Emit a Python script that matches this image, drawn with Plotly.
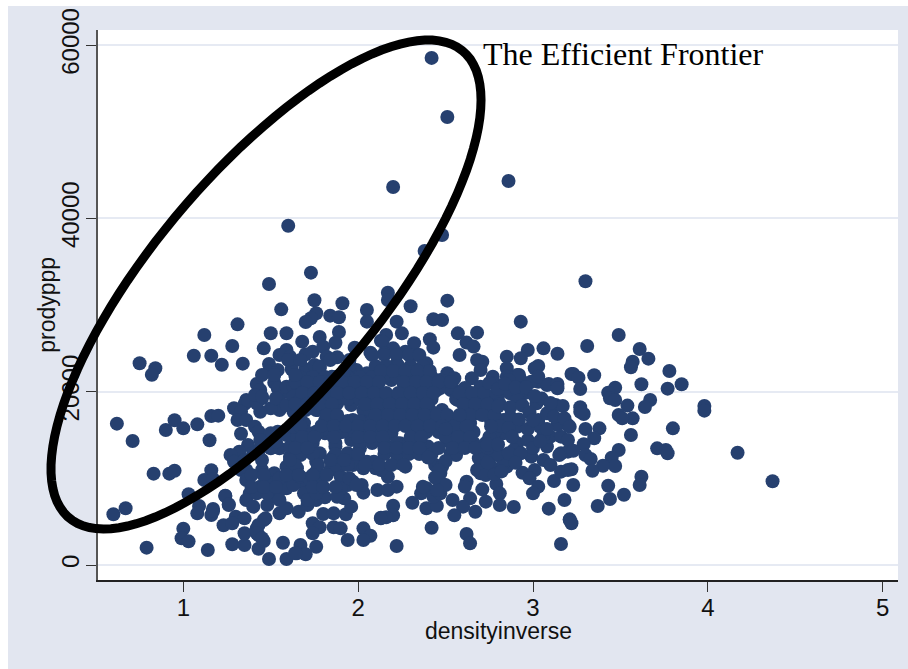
import numpy as np
import plotly.graph_objects as go

# values, grouped by part of the cloud
upper_x = [2.42, 2.51, 2.20, 2.86, 2.48, 2.38, 1.60, 1.73, 1.49, 1.75,
           1.91, 1.56, 2.05, 1.76, 1.73, 1.70, 1.84, 1.89, 2.05, 1.31,
           1.12, 1.50, 1.59, 1.89, 1.78, 1.68, 1.87, 1.28, 1.46, 1.98,
           2.13, 2.07, 1.06, 1.16, 1.22, 1.34, 1.59, 1.55, 1.61, 1.74,
           1.70, 1.80, 1.82, 1.88, 1.49, 1.49, 1.54, 1.62, 1.70, 1.75,
           1.78, 1.42, 1.44, 1.52, 1.54, 1.58, 1.63, 1.71, 1.36, 1.45,
           1.55]
upper_y = [58510, 51700, 43620, 44310, 38080, 36240, 39150, 33730, 32430, 30540,
           30200, 29500, 29430, 29040, 28470, 28040, 28770, 28580, 28080, 27770,
           26540, 26740, 26740, 26890, 26310, 25770, 25650, 25270, 25000, 25080,
           25880, 24500, 24150, 24150, 23110, 23230, 24810, 24230, 24040, 24620,
           24310, 25190, 24040, 23970, 23200, 22310, 22500, 22580, 22580, 23080,
           22700, 20890, 20200, 21040, 20390, 20000, 20390, 21040, 19040, 19240,
           18850]

left_x = [0.75, 0.84, 0.82, 0.62, 0.71, 0.90, 0.95, 1.00, 1.08, 1.16,
          1.20, 1.15, 1.33, 0.83, 0.92, 0.95, 1.16, 1.12, 1.17, 1.03,
          1.09, 1.08, 1.17, 1.16, 0.67, 0.60, 1.24, 1.26, 1.23, 1.00,
          0.99, 1.03, 0.79, 1.14, 1.28, 1.35, 1.35, 1.43, 1.46, 1.43,
          1.46, 1.42, 1.49, 1.59, 1.57, 1.67, 1.65]
left_y = [23280, 22700, 21960, 16310, 14310, 15580, 16700, 15770, 16230, 17190,
          17230, 14390, 15150, 10540, 10540, 10880, 10930, 9810, 9920, 8160,
          6810, 5960, 6460, 5770, 6540, 5850, 8000, 6920, 4580, 4190,
          3080, 2730, 2000, 1730, 2390, 2310, 3660, 1880, 2770, 3460,
          5190, 4230, 690, 690, 2570, 2310, 1350]

lowleft_x = [1.29, 1.35, 1.37, 1.33, 1.31, 1.36, 1.41, 1.43, 1.37, 1.32,
             1.27, 1.29, 1.35, 1.40, 1.50, 1.54, 1.33, 1.36, 1.36, 1.45,
             1.52, 1.47, 1.44, 1.38, 1.36, 1.40, 1.48, 1.53, 1.57, 1.63,
             1.69, 1.74, 1.55, 1.59, 1.66, 1.71, 1.76, 1.81, 1.80, 1.86,
             1.93, 1.96, 1.92, 2.03, 2.02, 1.97, 2.11, 1.24, 1.26, 1.17,
             1.30, 1.35, 1.28, 1.47, 1.43, 1.42, 1.45, 1.70, 1.64, 1.76,
             1.74, 1.78, 1.74, 1.86, 1.90, 1.94, 2.03, 2.07, 2.03, 2.13,
             1.42, 1.48, 1.55, 1.59, 1.69, 1.71, 1.76, 1.55, 1.50, 1.55,
             1.63, 1.59, 1.65, 1.67, 1.72, 1.78, 1.76, 1.76, 1.84, 1.90,
             1.94, 1.90, 1.88, 1.95, 1.99, 1.90, 1.97, 2.03, 2.10, 1.99,
             2.05, 1.94, 1.86, 1.78, 1.73, 1.67, 1.61, 1.55, 1.61, 1.50,
             1.44, 1.44, 1.53, 1.59, 1.65, 1.72, 1.76, 1.69, 1.63, 1.81,
             1.88, 1.94, 1.99, 2.06, 2.12, 1.87, 1.96, 2.01, 1.82, 1.76,
             1.82, 1.88, 1.96, 2.03, 2.11, 1.97, 2.05, 2.12, 1.69, 1.63,
             1.55, 1.50, 1.44, 1.42, 1.41, 1.53, 1.59, 1.65, 1.78, 1.90,
             1.97, 2.07, 2.13]
lowleft_y = [18080, 18580, 18920, 17690, 16730, 16730, 15960, 15380, 13850, 13080,
             12690, 11920, 12120, 12890, 15200, 15380, 10960, 10960, 9810, 10960,
             10580, 9810, 9040, 8270, 7500, 6730, 6920, 7880, 9230, 10390,
             9430, 9040, 5960, 6540, 6150, 6920, 7500, 7810, 5880, 5960,
             5850, 6730, 7690, 8350, 9230, 9610, 8650, 7960, 7000, 6230,
             5570, 5380, 4810, 5380, 4620, 3660, 3080, 1230, 1350, 2110,
             4810, 4350, 3650, 4350, 4230, 2890, 4230, 3380, 2890, 5460,
             8270, 8270, 8650, 8850, 8270, 7500, 8270, 7500, 9430, 10000,
             9230, 11350, 11160, 10190, 10000, 10000, 10770, 11920, 10960, 10190,
             9230, 8850, 7880, 10000, 9230, 11540, 11540, 11160, 11160, 12500,
             11920, 12890, 12500, 12890, 13270, 12690, 12500, 13460, 13660, 13460,
             13460, 14420, 14230, 15000, 14810, 15200, 15380, 16350, 15960, 15200,
             15200, 15960, 15380, 15380, 15000, 13660, 14420, 13460, 17500, 17880,
             18650, 18650, 18460, 17880, 17880, 16730, 16540, 16350, 17880, 17690,
             17880, 18080, 17690, 18650, 19620, 19240, 18460, 19240, 19430, 19620,
             19430, 19430, 19040]

mid_x = [2.17, 2.17, 2.30, 2.22, 2.25, 2.16, 2.14, 2.32, 2.51, 2.43,
         2.48, 2.57, 2.68, 2.93, 2.41, 2.43, 2.62, 2.66, 2.58, 2.85,
         2.97, 3.06, 2.93, 2.71, 2.68, 3.03, 3.01, 2.85, 2.85, 2.93,
         3.03, 3.08, 2.70, 2.77, 2.65, 2.70, 2.78, 2.60, 2.51, 2.55,
         2.47, 2.42, 2.39, 2.34, 2.27, 2.20, 2.15, 1.52, 1.59, 1.63,
         1.45, 1.63, 1.70, 1.85, 1.78, 1.84, 1.81, 1.94, 1.99, 2.05,
         2.11, 2.19, 2.22, 2.28, 2.34, 2.38, 2.45, 2.53, 1.96, 2.03,
         2.11, 2.19, 2.26, 2.32, 2.15, 2.22, 2.30, 2.38, 2.42, 2.07,
         2.15, 2.20, 2.28, 2.36, 2.11, 2.19, 2.30, 2.36, 2.24, 2.32,
         2.40, 2.47, 2.53, 2.60, 2.51, 2.57, 2.53, 2.62, 2.64, 2.57,
         2.64, 2.72, 2.80, 2.87, 2.93, 2.60, 2.68, 2.76, 2.83, 2.87,
         3.02, 2.91, 3.03, 3.04, 3.08, 2.78, 2.76, 2.83, 2.91, 2.97,
         2.89, 2.84, 2.79, 2.72, 2.70, 2.76, 2.85, 2.70, 2.99, 3.08,
         3.06, 2.94, 3.01, 2.98, 3.03, 3.00, 2.62, 2.61, 2.79, 2.71,
         2.81, 2.81, 2.73, 2.64, 2.60, 2.67, 2.55, 2.89, 3.09, 2.54,
         2.39, 2.45, 2.31, 2.36, 2.39, 2.43, 2.47, 2.49, 2.47, 2.44,
         2.20, 2.20, 2.16, 2.13, 2.22, 2.17, 2.22, 2.42, 2.62, 2.64]
mid_y = [31420, 30580, 29850, 28080, 26730, 26540, 25770, 25580, 30500, 28350,
         28270, 26730, 26810, 28080, 26040, 25080, 25660, 25200, 24230, 24040,
         24810, 25000, 23850, 23460, 23650, 22960, 22700, 22700, 21730, 21350,
         21150, 20770, 22500, 21730, 21540, 20580, 20960, 19810, 22120, 21540,
         21350, 21350, 23270, 24230, 24620, 25000, 24430, 22100, 20580, 20580,
         19430, 19430, 20000, 21730, 22890, 21350, 20200, 21730, 22500, 22120,
         22500, 22500, 23270, 22500, 22120, 20960, 20200, 20200, 20580, 20580,
         20960, 21350, 20960, 20200, 19430, 19040, 18650, 18270, 17120, 18650,
         17500, 16730, 17500, 16730, 15960, 15200, 15960, 15580, 14040, 14420,
         13660, 15960, 16350, 15960, 14420, 14040, 12890, 14420, 16350, 19040,
         18650, 19040, 19430, 19810, 19620, 17120, 17500, 17500, 16730, 17120,
         18650, 15960, 16730, 15960, 17500, 15960, 14810, 15200, 14040, 14420,
         13270, 12500, 12690, 13080, 12120, 11350, 11350, 10580, 12500, 13660,
         12120, 10650, 10960, 10000, 9040, 8270, 9610, 9040, 9350, 8730,
         8270, 6920, 7310, 7690, 6730, 6150, 5730, 6690, 6500, 7500,
         6540, 6840, 7190, 8270, 8850, 7880, 8270, 9230, 10580, 11540,
         6840, 5730, 5500, 5380, 9040, 8650, 2190, 4300, 3570, 2500]

extra_x = [2.17, 2.13, 2.09, 2.24, 2.27, 2.48, 2.50, 2.45, 2.37, 2.56,
           2.69, 2.68, 2.73, 2.83, 3.12, 3.18, 3.21, 3.16, 3.10, 3.16,
           3.20, 3.16, 3.20, 3.10, 3.16, 3.14, 3.20, 3.20, 3.06, 3.14,
           3.22, 2.91, 2.99, 3.03, 3.09, 3.14, 3.14, 3.13, 3.17, 3.12,
           3.18, 3.21, 2.95, 2.94, 2.91, 2.92, 2.86]
extra_y = [10190, 10960, 11920, 11730, 11350, 11350, 9230, 8650, 9040, 12690,
           12310, 10960, 10390, 11730, 9690, 7500, 5190, 2420, 11540, 10770,
           10960, 12890, 13080, 14810, 14810, 16160, 16160, 14420, 15000, 24380,
           22040, 21930, 21150, 21730, 20890, 20890, 20390, 18460, 18350, 17120,
           16920, 15960, 19810, 20200, 19040, 21930, 21350]

right_x = [3.30, 3.49, 3.61, 3.66, 3.31, 3.57, 3.56, 3.78, 3.85, 3.77,
           3.62, 3.47, 3.43, 3.44, 3.47, 3.35, 3.23, 3.26, 3.27, 3.27,
           3.29, 3.27, 3.54, 3.67, 3.64, 3.98, 3.98, 3.49, 3.57, 3.51,
           3.80, 3.30, 3.38, 3.35, 3.56, 3.29, 3.49, 3.71, 3.76, 3.77,
           4.17, 4.37, 3.30, 3.33, 3.45, 3.47, 3.40, 3.34, 3.23, 3.15,
           3.22, 3.23, 3.43, 3.62, 3.61, 3.52, 3.44, 3.37, 3.21, 3.22]
right_y = [32740, 26540, 24930, 23810, 25270, 23460, 22810, 22390, 20850, 20350,
           20850, 20460, 19880, 19240, 19040, 21890, 22040, 21620, 20310, 18200,
           17430, 17690, 18390, 19040, 18230, 18350, 17810, 17310, 16920, 16920,
           15770, 15690, 15770, 14620, 15000, 13930, 13270, 13460, 13270, 12890,
           12960, 9660, 12690, 12230, 12380, 11420, 11460, 10880, 13190, 12690,
           11040, 9230, 9150, 10190, 9230, 8110, 7620, 6810, 5270, 4810]

# the solid middle of the cloud, single dots can't be told apart here
core_x = [2.08, 2.15, 2.22, 2.29, 2.35,
          1.95, 2.10, 2.16, 2.23, 2.30, 2.37,
          1.67, 1.74, 1.81, 1.87, 1.94, 2.01, 2.08, 2.15, 2.22, 2.29, 2.35, 2.42,
          1.70, 1.77, 1.84, 1.91, 1.98, 2.04, 2.11, 2.27, 2.34, 2.41, 2.47, 2.54, 2.61,
          1.67, 1.74, 1.81, 1.87, 1.94, 2.01, 2.08, 2.15, 2.22, 2.29, 2.35, 2.42, 2.56, 2.63, 2.70, 2.76,
          1.70, 1.77, 1.84, 2.07, 2.14, 2.20, 2.27, 2.34, 2.41, 2.48, 2.63, 2.70, 2.76,
          1.81, 1.87, 1.94, 2.01, 2.08, 2.15, 2.22, 2.29, 2.35, 2.42, 2.49, 2.56, 2.63, 2.76,
          1.70, 1.77, 1.84, 1.91, 1.98, 2.04, 2.11, 2.18, 2.32, 2.39, 2.46, 2.53, 2.60, 2.66, 2.78,
          1.67, 1.74, 1.87, 2.01, 2.08, 2.15, 2.22, 2.29, 2.35, 2.53, 2.60, 2.66, 2.73,
          1.67, 1.74, 1.87, 2.00, 2.15, 2.22, 2.29, 2.35, 2.42, 2.73, 2.80,
          1.64, 1.77, 1.87, 1.94, 2.04, 2.12, 2.19, 2.26]
core_y = [24230, 24230, 24230, 24230, 24230,
          22960, 22960, 22960, 22960, 22960, 22960,
          21700, 21700, 21700, 21700, 21700, 21700, 21700, 21700, 21700, 21700, 21700, 21700,
          20430, 20430, 20430, 20430, 20430, 20430, 20430, 20430, 20430, 20430, 20430, 20430, 20430,
          19160, 19160, 19160, 19160, 19160, 19160, 19160, 19160, 19160, 19160, 19160, 19160, 19160, 19160, 19160, 19160,
          17890, 17890, 17890, 17890, 17890, 17890, 17890, 17890, 17890, 17890, 17890, 17890, 17890,
          16620, 16620, 16620, 16620, 16620, 16620, 16620, 16620, 16620, 16620, 16620, 16620, 16620, 16620,
          15350, 15350, 15350, 15350, 15350, 15350, 15350, 15350, 15350, 15350, 15350, 15350, 15350, 15350, 15350,
          14080, 14080, 14080, 14080, 14080, 14080, 14080, 14080, 14080, 14080, 14080, 14080, 14080,
          12810, 12810, 12810, 12810, 12810, 12810, 12810, 12810, 12810, 12810, 12810,
          11540, 11540, 11540, 11540, 11540, 11540, 11540, 11540]

core2_x = [1.92, 2.13, 2.20, 2.27, 2.34, 2.41,
           1.64, 1.71, 1.78, 1.84, 1.91, 1.98, 2.05, 2.12, 2.26, 2.33, 2.39, 2.46, 2.53,
           1.68, 1.75, 1.82, 1.88, 1.95, 2.02, 2.09, 2.16, 2.23, 2.30, 2.37, 2.43, 2.58, 2.65, 2.72, 2.79,
           1.64, 1.71, 1.78, 1.85, 2.04, 2.11, 2.18, 2.25, 2.32, 2.39, 2.60, 2.67, 2.74, 2.81,
           1.82, 1.88, 2.10, 2.17, 2.24, 2.31, 2.38, 2.45, 2.51, 2.64, 2.71, 2.78,
           1.67, 1.79, 1.86, 1.93, 2.00, 2.07, 2.14, 2.21, 2.27, 2.34, 2.41, 2.48, 2.55, 2.62, 2.81,
           1.68, 1.75, 1.86, 2.00, 2.07, 2.14, 2.30, 2.36, 2.50, 2.57, 2.64, 2.75,
           1.64, 1.71, 2.15, 2.22, 2.29, 2.35, 2.54, 2.61, 2.67, 2.74,
           1.60, 1.67, 1.84, 1.95, 1.45, 1.52, 1.64,
           1.39, 1.46, 1.59, 1.66, 1.74, 1.82, 1.39, 1.46, 1.53, 1.74, 1.80, 1.87,
           1.45, 1.61, 1.84, 1.92]
core2_y = [22390, 22390, 22390, 22390, 22390, 22390,
           21120, 21120, 21120, 21120, 21120, 21120, 21120, 21120, 21120, 21120, 21120, 21120, 21120,
           19850, 19850, 19850, 19850, 19850, 19850, 19850, 19850, 19850, 19850, 19850, 19850, 19850, 19850, 19850, 19850,
           18580, 18580, 18580, 18580, 18580, 18580, 18580, 18580, 18580, 18580, 18580, 18580, 18580, 18580,
           17310, 17310, 17310, 17310, 17310, 17310, 17310, 17310, 17310, 17310, 17310, 17310,
           16040, 16040, 16040, 16040, 16040, 16040, 16040, 16040, 16040, 16040, 16040, 16040, 16040, 16040, 16040,
           14770, 14770, 14770, 14770, 14770, 14770, 14770, 14770, 14770, 14770, 14770, 14770,
           13500, 13500, 13500, 13500, 13500, 13500, 13500, 13500, 13500, 13500,
           23650, 23650, 23650, 23650, 21930, 21930, 21930,
           10390, 10390, 10390, 10390, 10390, 10390, 9000, 9000, 9000, 9000, 9000, 9000,
           12120, 12120, 12120, 12120]

shoulder_x = [2.75, 2.80, 2.84, 2.90, 2.96, 2.80, 2.87, 2.94, 2.98, 2.76,
              2.86, 2.92, 2.97, 2.88, 2.74, 2.80, 2.86, 2.93, 3.00, 3.04,
              3.08, 2.78, 2.74, 2.82, 2.90, 3.05, 3.01, 3.10, 3.00, 2.50,
              2.58, 2.46, 2.40, 2.50, 2.46, 2.44]
shoulder_y = [21000, 20300, 20900, 20500, 20500, 18300, 18200, 18400, 17600, 16000,
              15800, 16800, 15700, 14800, 13900, 13900, 12900, 12900, 13500, 14300,
              15700, 10500, 11800, 10800, 11800, 19200, 19500, 18700, 16700, 15700,
              17300, 13500, 12400, 12000, 10900, 10100]

density_inverse = upper_x + left_x + lowleft_x + mid_x + extra_x + right_x + core_x + core2_x + shoulder_x
prodyppp = upper_y + left_y + lowleft_y + mid_y + extra_y + right_y + core_y + core2_y + shoulder_y
assert len(density_inverse) == len(prodyppp)

x_ticks = [1, 2, 3, 4, 5]
y_ticks = [0, 20000, 40000, 60000]

NAVY = "#26406F"
PANEL = "#E2E6F0"
GRID = "#E6EAF3"

fig = go.Figure()
fig.add_trace(go.Scatter(
    x=density_inverse, y=prodyppp, mode="markers",
    marker=dict(color=NAVY, size=14, line=dict(width=0)),
    showlegend=False,
))

# hand drawn ring round the top left of the cloud, in page pixels
t = np.linspace(0, 2 * np.pi, 120)
ring_px = 266 + 215 * np.cos(t)
ring_py = 284.5 + 244.5 * (-0.7546 * np.cos(t) + 0.656 * np.sin(t))
W, H = 900, 663
L, R, T, B = 90, 10, 24, 89
paper_x = (ring_px - 8 - L) / (W - L - R)
paper_y = 1 - (ring_py - 6 - T) / (H - T - B)
ring = "M " + " L ".join(f"{a:.4f},{b:.4f}" for a, b in zip(paper_x, paper_y)) + " Z"
fig.add_shape(type="path", path=ring, xref="paper", yref="paper",
              line=dict(color="black", width=9), layer="above")

fig.add_annotation(x=2.705, y=58970, text="The Efficient Frontier", showarrow=False,
                   xanchor="left", font=dict(family="Liberation Serif", size=32, color="black"))
# axis titles as notes, the axis title standoff can't put them this close
fig.add_annotation(x=0.5, y=-0.0927, xref="paper", yref="paper", text="densityinverse",
                   xanchor="center", yanchor="middle", showarrow=False, font=dict(size=23))
fig.add_annotation(x=-0.064, y=0.5, xref="paper", yref="paper", text="prodyppp", textangle=-90,
                   xanchor="center", yanchor="middle", showarrow=False, font=dict(size=23))

fig.update_layout(
    width=W, height=H,
    margin=dict(l=L, r=R, t=T, b=B, autoexpand=False),
    paper_bgcolor=PANEL, plot_bgcolor="white",
    font=dict(family="Liberation Sans", size=24, color="#111111"),
)
fig.update_xaxes(
    range=[0.512, 5.0875], tickvals=x_ticks, showgrid=False, zeroline=False, automargin=False,
    showline=True, linecolor="#222222", linewidth=2,
    ticks="outside", ticklen=10, tickwidth=1, tickcolor="#333333", ticklabelstandoff=-5,
)
fig.update_yaxes(
    range=[-1731, 61731], tickvals=y_ticks, tickformat="d", tickangle=-90, automargin=False,
    showgrid=True, gridcolor=GRID, gridwidth=2,
    zeroline=False, showline=True, linecolor="#555555", linewidth=2,
    ticks="outside", ticklen=10, tickwidth=1, tickcolor="#333333", ticklabelstandoff=-3,
)

fig.write_html("out.html", post_script="document.body.style.margin='6px 0 0 8px';document.body.style.overflow='hidden';")
